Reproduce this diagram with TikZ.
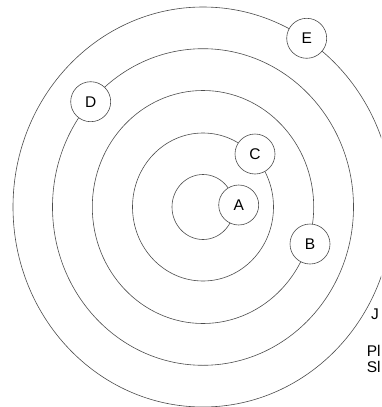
\documentclass[tikz,border=0pt]{standalone}
\usepackage{fontspec}
\setmainfont{Liberation Sans}
\usepackage{tikz}
\usetikzlibrary{positioning}

\begin{document}
\begin{tikzpicture}[
    x=1pt, y=-1pt,
    orbit/.style={draw=black!70, line width=0.6pt},
    body/.style={draw=black!70, line width=0.6pt, circle, fill=white, minimum size=40pt, inner sep=0pt, font=\fontsize{15.5}{18}\selectfont},
    note/.style={anchor=base west, inner sep=0pt, font=\fontsize{15.5}{18}\selectfont},
]

\clip (0,0) rectangle (381,407);

% orbits
\coordinate (sun) at (203,207);
\draw[orbit] (sun) ellipse [x radius=31, y radius=32.5];
\draw[orbit] (sun) ellipse [x radius=70.5, y radius=74];
\draw[orbit] (sun) ellipse [x radius=110.7, y radius=116.5];
\draw[orbit] (sun) ellipse [x radius=150.5, y radius=158.3];
\draw[orbit] (sun) ellipse [x radius=190, y radius=200];

% bodies
\node[body] (A) at (238.7,205) {A};
\node[body] (C) at (255,154) {C};
\node[body] (B) at (310,244) {B};
\node[body] (D) at (90.7,101.7) {D};
\node[body] (E) at (306.7,38.3) {E};

% notes at the right edge
\node[note] (nj) at (371,319) {J};
\node[note] (npl) at (366.7,356) {Pl};
\node[note] (nsl) at (366.7,372) {Sl};

\end{tikzpicture}
\end{document}
